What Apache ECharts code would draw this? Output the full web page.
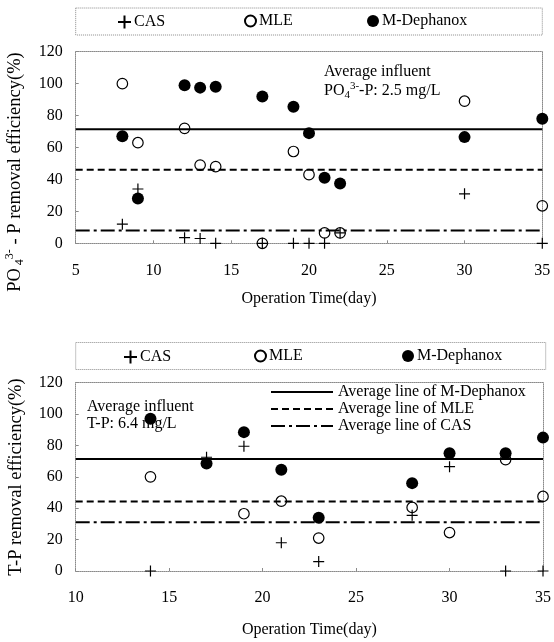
<!DOCTYPE html>
<html><head><meta charset="utf-8">
<script src="https://cdn.jsdelivr.net/npm/echarts@6/dist/echarts.min.js"></script>
<style>html,body{margin:0;padding:0;background:#fff}#c{width:554px;height:642px}</style>
</head><body><div id="c"></div>
<script>
// ---------- DATA ----------
const seriesNames = ['CAS', 'MLE', 'M-Dephanox'];
const lineNames = ['Average line of M-Dephanox', 'Average line of MLE', 'Average line of CAS'];

// Top panel: PO4(3-)-P removal efficiency
const topDays = [8, 9, 12, 13, 14, 17, 19, 20, 21, 22, 30, 35];
const topCAS  = [12, 34, 3.5, 3, 0, 0, 0, 0, 0, 6.5, 31, 0];
const topMLE  = [100, 63, 72, 49, 48, 0, 57.5, 43, 6.5, 6.5, 89, 23.5];
const topDeph = [67, 28, 99, 97.5, 98, 92, 85.5, 69, 41, 37.5, 66.5, 78];
const topAverages = [71.5, 46, 8];      // M-Dephanox, MLE, CAS
const topXRange = [5, 35];

// Bottom panel: T-P removal efficiency
const botDays = [14, 17, 19, 21, 23, 28, 30, 33, 35];
const botCAS  = [0, 72.5, 79.5, 18, 6, 35.5, 66.5, 0, 0];
const botMLE  = [60, null, 36.5, 44.5, 21, 40.5, 24.5, 71, 47.5];
const botDeph = [97, 68.5, 88.5, 64.5, 34, 56, 75, 75, 85];
const botAverages = [71.4, 44.3, 31];   // M-Dephanox, MLE, CAS
const botXRange = [10, 35];

const yRange = [0, 120];
const yStep = 20;
const xStep = 5;

// ---------- CHART ----------
const FONT = "'Liberation Serif', 'Times New Roman', serif";
const GRAY = '#8a8a8a';
const chart = echarts.init(document.getElementById('c'), null, {renderer: 'canvas'});

function pairs(xs, ys) { return xs.map((x, i) => ys[i] == null ? null : [x, ys[i]]).filter(d => d); }

const markerStyles = [
  {symbol: 'path://M0,6H12M6,0V12', symbolSize: 11, itemStyle: {color: 'none', borderColor: '#000', borderWidth: 1.2, opacity: 1}},
  {symbol: 'circle', symbolSize: 10.5, itemStyle: {color: 'none', borderColor: '#000', borderWidth: 1.2, opacity: 1}},
  {symbol: 'circle', symbolSize: 12, itemStyle: {color: '#000', borderWidth: 0, opacity: 1}}
];
const lineStyles = [
  {type: 'solid', width: 2, color: '#000'},
  {type: [7, 4], width: 2, color: '#000'},
  {type: [14, 4, 3, 4], width: 2, color: '#000'}
];

function panelSeries(gi, days, vals, avgs, xr) {
  const out = [];
  avgs.forEach((a, i) => {
    out.push({
      name: lineNames[i], type: 'line', xAxisIndex: gi * 2, yAxisIndex: gi * 2,
      data: [[xr[0], a], [xr[1], a]], symbol: 'none', lineStyle: lineStyles[i],
      itemStyle: {color: '#000'}, z: 2, silent: true
    });
  });
  // draw order: MLE, M-Dephanox, CAS on top
  [1, 2, 0].forEach(k => {
    out.push(Object.assign({
      name: seriesNames[k], type: 'scatter', xAxisIndex: gi * 2, yAxisIndex: gi * 2,
      data: pairs(days, vals[k]), z: 3 + k, silent: true
    }, markerStyles[k]));
  });
  return out;
}

function xAxes(gi, xr, nameGap) {
  return [{
    type: 'value', gridIndex: gi, min: xr[0], max: xr[1], interval: xStep, position: 'bottom',
    name: 'Operation Time(day)', nameLocation: 'middle', nameGap: nameGap,
    nameTextStyle: {fontFamily: FONT, fontSize: 16, color: '#000'},
    axisLine: {show: true, onZero: false, lineStyle: {color: GRAY, type: 'dotted', width: 1}},
    axisTick: {show: true, inside: true, length: 3, lineStyle: {color: GRAY}},
    axisLabel: {fontFamily: FONT, fontSize: 16, color: '#000', margin: 19},
    splitLine: {show: false}
  }, {
    type: 'value', gridIndex: gi, min: xr[0], max: xr[1], position: 'top',
    axisLine: {show: true, onZero: false, lineStyle: {color: GRAY, type: 'dotted', width: 1}},
    axisTick: {show: false}, axisLabel: {show: false}, splitLine: {show: false}
  }];
}
function yAxes(gi) {
  return [{
    type: 'value', gridIndex: gi, min: yRange[0], max: yRange[1], interval: yStep, position: 'left',
    axisLine: {show: true, onZero: false, lineStyle: {color: GRAY, type: 'dotted', width: 1}},
    axisTick: {show: true, inside: true, length: 3, lineStyle: {color: GRAY}},
    axisLabel: {fontFamily: FONT, fontSize: 16, color: '#000', margin: 13},
    splitLine: {show: false}
  }, {
    type: 'value', gridIndex: gi, min: yRange[0], max: yRange[1], position: 'right',
    axisLine: {show: true, onZero: false, lineStyle: {color: GRAY, type: 'dotted', width: 1}},
    axisTick: {show: false}, axisLabel: {show: false}, splitLine: {show: false}
  }];
}

function markerLegends(topPx, centers) {
  const sizes = [13, 11, 12];
  return [0, 1, 2].map(k => ({
    data: [seriesNames[k]], left: centers[k] - sizes[k] / 2, top: topPx, padding: 0,
    itemWidth: sizes[k], itemHeight: sizes[k], selectedMode: false,
    textStyle: {fontFamily: FONT, fontSize: 16, color: '#000', padding: [0, 0, 0, -2]}
  }));
}

const richTitle = {
  a: {fontFamily: FONT, fontSize: 18.5, fill: '#000', lineHeight: 22},
  sub: {fontFamily: FONT, fontSize: 12, fill: '#000', verticalAlign: 'bottom', lineHeight: 22},
  sup: {fontFamily: FONT, fontSize: 12, fill: '#000', verticalAlign: 'top', lineHeight: 22}
};
const richNote = {
  a: {fontFamily: FONT, fontSize: 16, fill: '#000', lineHeight: 20},
  sub: {fontFamily: FONT, fontSize: 11, fill: '#000', verticalAlign: 'bottom', lineHeight: 20},
  sup: {fontFamily: FONT, fontSize: 11, fill: '#000', verticalAlign: 'top', lineHeight: 20}
};

const option = {
  backgroundColor: '#fff',
  animation: false,
  grid: [
    {left: 75.7, top: 51.7, width: 466.6, height: 191.6, containLabel: false},
    {left: 75.7, top: 382.7, width: 470, height: 188.3, containLabel: false}
  ],
  xAxis: [].concat(xAxes(0, topXRange, 47), xAxes(1, botXRange, 51)),
  yAxis: [].concat(yAxes(0), yAxes(1)),
  legend: [].concat(
    markerLegends(13, [122, 248, 373]),
    markerLegends(348, [128, 258, 408]),
    [{
      data: lineNames, orient: 'vertical', left: 270, top: 383.5, padding: 0,
      itemWidth: 62, itemHeight: 12, itemGap: 0, selectedMode: false,
      itemStyle: {opacity: 0},
      textStyle: {fontFamily: FONT, fontSize: 16, color: '#000', lineHeight: 17}
    }]
  ),
  graphic: [
    {type: 'rect', shape: {x: 75.7, y: 8, width: 466.6, height: 27}, silent: true,
     style: {fill: 'none', stroke: GRAY, lineWidth: 1, lineDash: [1, 1]}},
    {type: 'rect', shape: {x: 75.7, y: 342.5, width: 470, height: 27}, silent: true,
     style: {fill: 'none', stroke: GRAY, lineWidth: 1, lineDash: [1, 1]}},
    {type: 'text', x: 15, y: 172, rotation: Math.PI / 2, silent: true,
     style: {text: '{a|PO}{sub| 4}{sup|3-}{a| - P removal efficiency(%)}', align: 'center', verticalAlign: 'middle',
       rich: richTitle}},
    {type: 'text', x: 16, y: 477, rotation: Math.PI / 2, silent: true,
     style: {text: 'T-P removal efficiency(%)', align: 'center', verticalAlign: 'middle',
       font: '18.5px ' + FONT, fill: '#000'}},
    {type: 'text', x: 324, y: 72, silent: true,
     style: {text: 'Average influent', align: 'left', verticalAlign: 'middle', font: '16px ' + FONT, fill: '#000'}},
    {type: 'text', x: 324, y: 91, silent: true,
     style: {text: '{a|PO}{sub|4}{sup|3-}{a|-P: 2.5 mg/L}', align: 'left', verticalAlign: 'middle', rich: richNote}},
    {type: 'text', x: 87, y: 407, silent: true,
     style: {text: 'Average influent', align: 'left', verticalAlign: 'middle', font: '16px ' + FONT, fill: '#000'}},
    {type: 'text', x: 87, y: 424, silent: true,
     style: {text: 'T-P: 6.4 mg/L', align: 'left', verticalAlign: 'middle', font: '16px ' + FONT, fill: '#000'}}
  ],
  series: [].concat(
    panelSeries(0, topDays, [topCAS, topMLE, topDeph], topAverages, topXRange),
    panelSeries(1, botDays, [botCAS, botMLE, botDeph], botAverages, botXRange)
  )
};
chart.setOption(option);
</script></body></html>
